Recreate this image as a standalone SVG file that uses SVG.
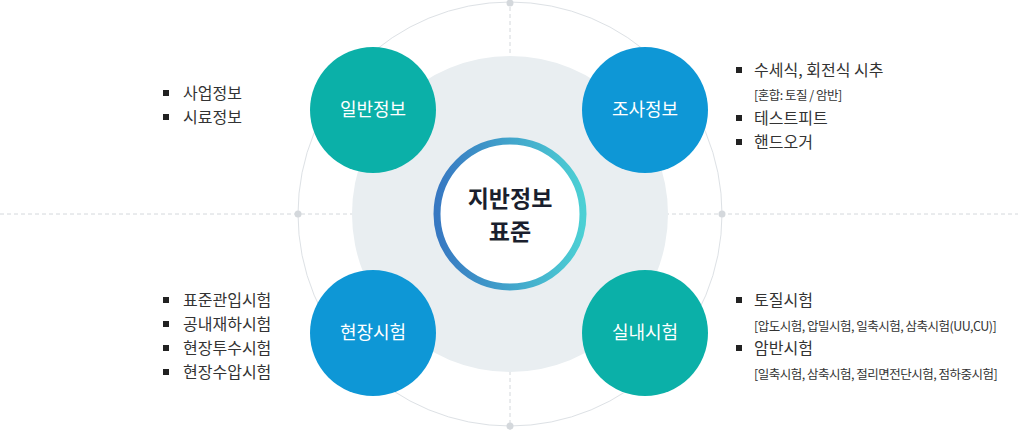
<svg xmlns="http://www.w3.org/2000/svg" width="1018" height="430" viewBox="0 0 1018 430">
<defs>
<linearGradient id="ring" x1="0" y1="0" x2="1" y2="0"><stop offset="0" stop-color="#3778c2"/><stop offset="1" stop-color="#4cd0d4"/></linearGradient>
<style>
text{font-family:"Noto Sans CJK KR","Noto Sans",sans-serif;fill:#333}
.li{font-size:16px}
.sm{font-size:12.5px;letter-spacing:-0.5px}
.nl{font-size:18px;fill:#fff;text-anchor:middle}
.b{fill:#222}
.guide{stroke:#d4d8dc;stroke-dasharray:4 3;stroke-width:1;fill:none}
.dot{fill:#d4d8dc}
</style>
</defs>
<rect width="1018" height="430" fill="#fff"/>
<g id="connectors">
<line class="guide" x1="0" y1="214" x2="1018" y2="214"/>
<line class="guide" x1="510" y1="0" x2="510" y2="430"/>
<circle cx="510" cy="214" r="212" fill="none" stroke="#dde1e5" stroke-width="1"/>
<circle cx="510" cy="214" r="158" fill="#e9eef1"/>
<circle class="dot" cx="510" cy="3" r="3.5"/><circle class="dot" cx="298" cy="214" r="3.5"/>
<circle class="dot" cx="722" cy="214" r="3.5"/><circle class="dot" cx="510" cy="426" r="3.5"/>
</g>
<g id="center">
<circle cx="510" cy="214" r="73" fill="#fff" stroke="url(#ring)" stroke-width="7"/>
<text x="510" y="207" text-anchor="middle" font-size="23" font-weight="bold" style="fill:#1a1f2e">지반정보</text>
<text x="510" y="240" text-anchor="middle" font-size="23" font-weight="bold" style="fill:#1a1f2e">표준</text>
</g>
<g id="n1"><circle cx="373" cy="110" r="63" fill="#0bb0a8"/><text class="nl" x="373" y="116">일반정보</text></g>
<g id="n2"><circle cx="645" cy="110" r="63" fill="#0e97d6"/><text class="nl" x="645" y="116">조사정보</text></g>
<g id="n3"><circle cx="373" cy="333" r="63" fill="#0e97d6"/><text class="nl" x="373" y="339">현장시험</text></g>
<g id="n4"><circle cx="645" cy="333" r="63" fill="#0bb0a8"/><text class="nl" x="645" y="339">실내시험</text></g>
<g id="list1">
<rect class="b" x="163" y="90" width="6" height="6"/><text class="li" x="183" y="99">사업정보</text>
<rect class="b" x="163" y="114" width="6" height="6"/><text class="li" x="183" y="123">시료정보</text>
</g>
<g id="list2">
<rect class="b" x="736" y="67" width="6" height="6"/><text class="li" x="754" y="76">수세식, 회전식 시추</text>
<text class="sm" x="754" y="100">[혼합: 토질 / 암반]</text>
<rect class="b" x="736" y="115" width="6" height="6"/><text class="li" x="754" y="124">테스트피트</text>
<rect class="b" x="736" y="139" width="6" height="6"/><text class="li" x="754" y="148">핸드오거</text>
</g>
<g id="list3">
<rect class="b" x="163" y="297" width="6" height="6"/><text class="li" x="183" y="306">표준관입시험</text>
<rect class="b" x="163" y="321" width="6" height="6"/><text class="li" x="183" y="330">공내재하시험</text>
<rect class="b" x="163" y="345" width="6" height="6"/><text class="li" x="183" y="354">현장투수시험</text>
<rect class="b" x="163" y="369" width="6" height="6"/><text class="li" x="183" y="378">현장수압시험</text>
</g>
<g id="list4">
<rect class="b" x="736" y="297" width="6" height="6"/><text class="li" x="754" y="306">토질시험</text>
<text class="sm" x="754" y="331">[압도시험, 압밀시험, 일축시험, 삼축시험(UU,CU)]</text>
<rect class="b" x="736" y="345" width="6" height="6"/><text class="li" x="754" y="354">암반시험</text>
<text class="sm" x="754" y="379">[일축시험, 삼축시험, 절리면전단시험, 점하중시험]</text>
</g>
</svg>
